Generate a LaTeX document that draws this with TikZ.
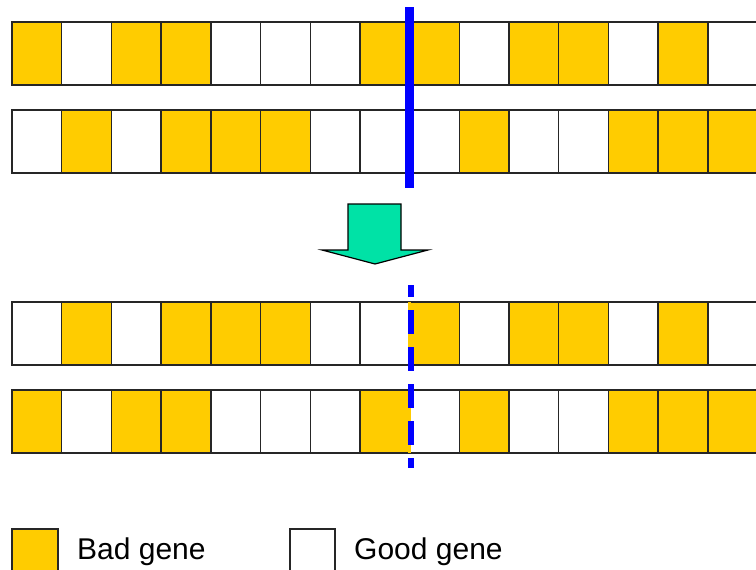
\documentclass[tikz,border=0pt]{standalone}
\usepackage{fontspec}
\setmainfont{Liberation Sans}
\usetikzlibrary{positioning}

\definecolor{genegold}{RGB}{255,204,0}
\definecolor{cutblue}{RGB}{0,0,255}
\definecolor{arrowmint}{RGB}{0,226,166}

\begin{document}
\begin{tikzpicture}[x=1pt, y=-1pt,
    cell/.style={draw=black!85, line width=1.4pt, minimum width=49.7pt,
      minimum height=63pt, inner sep=0pt, outer sep=0pt},
    bad cell/.style={cell, fill=genegold},
    good cell/.style={cell, fill=white},
    cutline/.style={cutblue, line width=9pt},
    swapline/.style={cutblue, line width=6pt, dash pattern=on 24pt off 13pt, dash phase=12pt},
    key text/.style={anchor=base west, inner sep=0pt, font=\fontsize{30}{36}\selectfont}]
  \useasboundingbox (0,0) rectangle (756,570);
  \clip (0,0) rectangle (756,570);

  % Parents (p1, p2) and children (c1, c2)
  \foreach \row/\ypos/\genes in {
      p1/53.5/{bad,good,bad,bad,good,good,good,bad,bad,good,bad,bad,good,bad,good},
      p2/141.5/{good,bad,good,bad,bad,bad,good,good,good,bad,good,good,bad,bad,bad},
      c1/333.5/{good,bad,good,bad,bad,bad,good,good,bad,good,bad,bad,good,bad,good},
      c2/421.5/{bad,good,bad,bad,good,good,good,bad,good,bad,good,good,bad,bad,bad}}
    \foreach \g [count=\i from 0] in \genes
      \node[\g\space cell] (\row-\i) at ({36.85+49.7*\i}, \ypos) {};

  % Crossover point
  \coordinate (cut top) at (409,7);
  \coordinate (cut bot) at (409,188);
  \draw[cutline] (cut top) -- (cut bot);

  % Arrow
  \draw[fill=arrowmint, line width=1.2pt, line join=miter]
    (348,204) -- (401,204) -- (401,250) -- (428,250) -- (375,264)
    -- (322,250) -- (348,250) -- cycle;

  % Swapped segments
  \draw[genegold, line width=3pt] (c1-8.north west) -- (c1-8.south west);
  \draw[genegold, line width=3pt] (c2-8.north west) -- (c2-8.south west);
  \coordinate (swap top) at (410.5,285);
  \coordinate (swap bot) at (410.5,468);
  \draw[swapline] (swap top) -- (swap bot);

  % Legend
  \node[bad cell, minimum width=46pt, minimum height=44pt] (key bad) at (35,551) {};
  \node[key text] (bad label) at (77,559) {Bad gene};
  \node[good cell, minimum width=45pt, minimum height=44pt] (key good) at (312.5,551) {};
  \node[key text] (good label) at (354,559) {Good gene};
\end{tikzpicture}
\end{document}
